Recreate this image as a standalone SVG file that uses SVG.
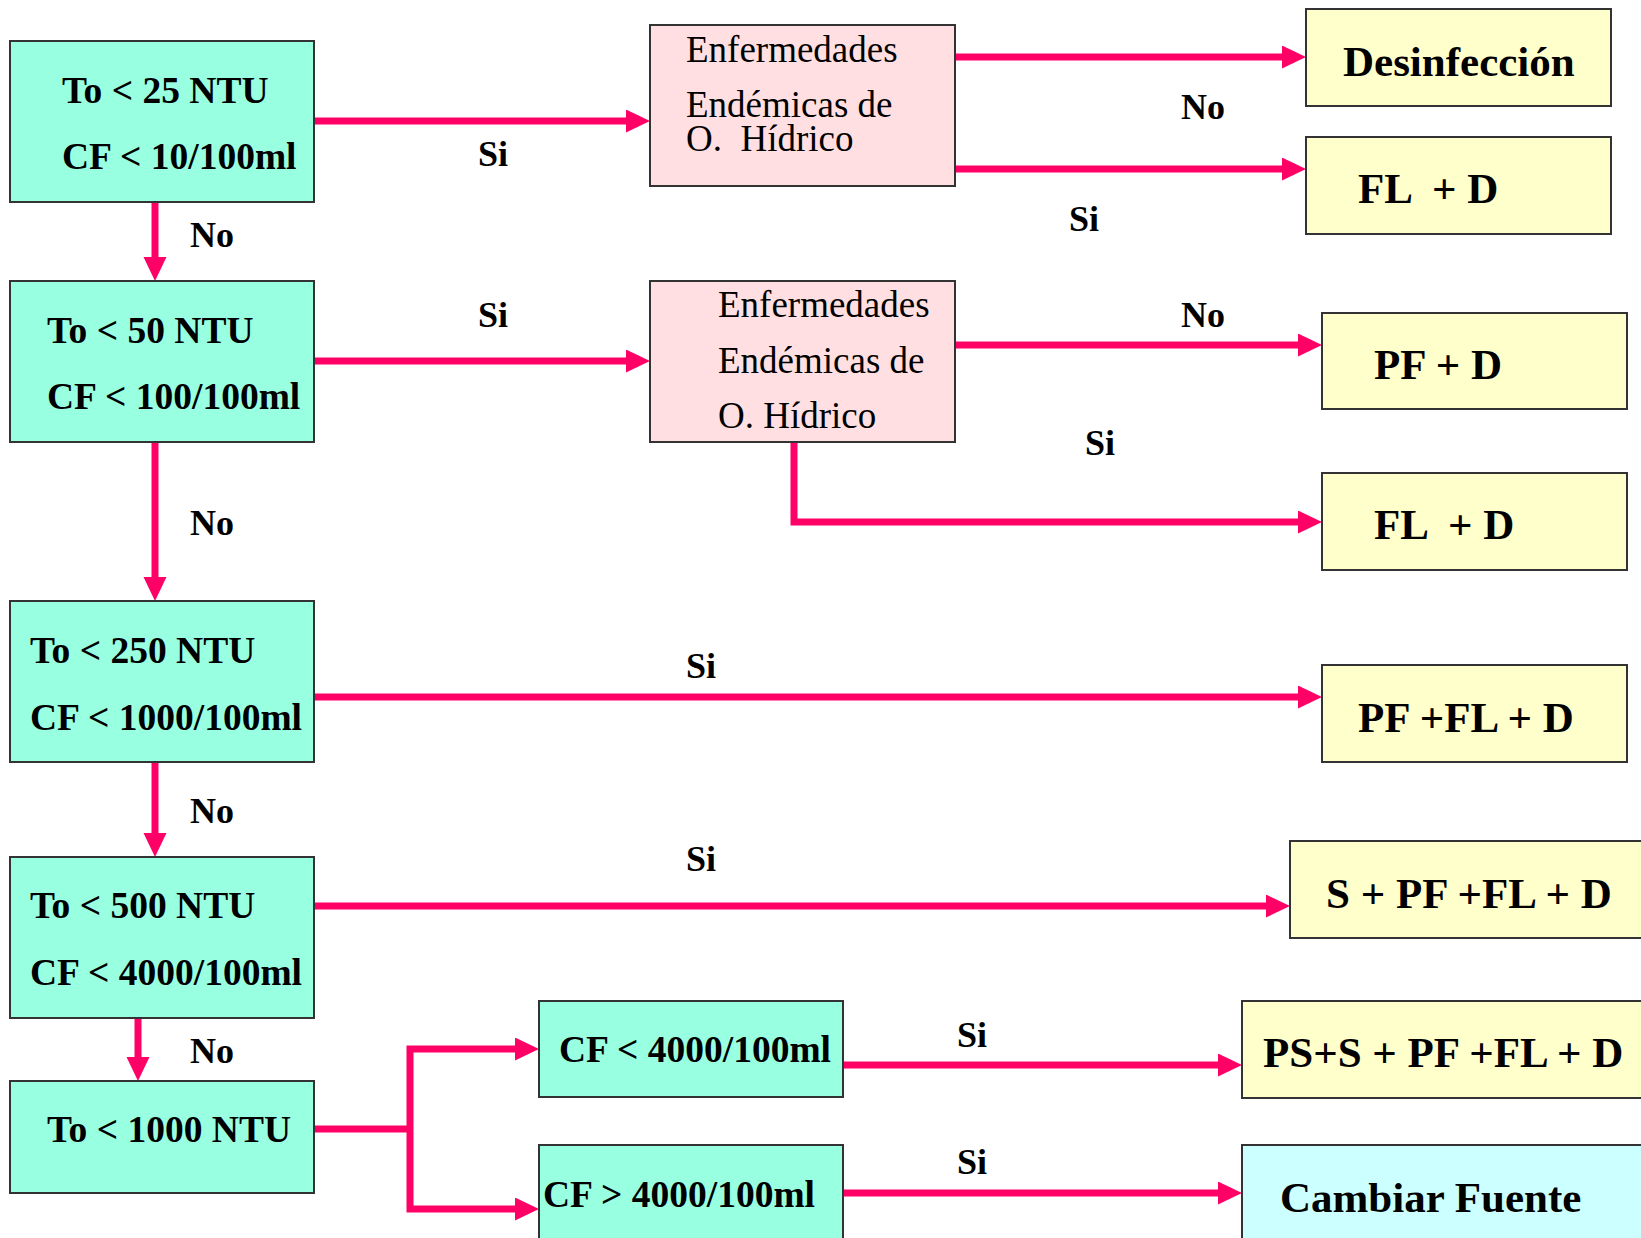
<svg xmlns="http://www.w3.org/2000/svg" width="1641" height="1238" viewBox="0 0 1641 1238">
<style>
.box{stroke:#333;stroke-width:2}
.teal{fill:#99FFE1}
.pink{fill:#FFDFE1}
.yel{fill:#FFFFCC}
.cyan{fill:#CCFFFF}
text{font-family:"Liberation Serif","Times New Roman",serif;fill:#000}
.t{font-size:37.5px;font-weight:bold}
.p{font-size:37px}
.y{font-size:43px;font-weight:bold}
.l{font-size:36px;font-weight:bold}
.c{fill:none;stroke:#FF0066;stroke-width:7;stroke-linejoin:miter}
.a{marker-end:url(#ah)}
</style>
<defs>
<marker id="ah" markerUnits="userSpaceOnUse" markerWidth="24" markerHeight="24" refX="4" refY="11.5" orient="auto">
<path d="M0,0 L24,11.5 L0,23 z" fill="#FF0066"/>
</marker>
</defs>
<rect width="1641" height="1238" fill="#fff"/>
<g id="connectors">
<path class="c a" d="M314,121 H630"/>
<path class="c a" d="M954,57 H1286"/>
<path class="c a" d="M954,169 H1286"/>
<path class="c a" d="M155,202 V261"/>
<path class="c a" d="M314,361 H630"/>
<path class="c a" d="M954,345 H1302"/>
<path class="c a" d="M794,442 V522 H1302"/>
<path class="c a" d="M155,442 V581"/>
<path class="c a" d="M314,697 H1302"/>
<path class="c a" d="M155,762 V837"/>
<path class="c a" d="M314,906 H1270"/>
<path class="c a" d="M138,1018 V1061"/>
<path class="c" d="M314,1129 H410"/>
<path class="c a" d="M410,1129 V1049 H519"/>
<path class="c a" d="M410,1129 V1209 H519"/>
<path class="c a" d="M843,1065 H1222"/>
<path class="c a" d="M843,1193 H1222"/>
<text class="l" x="478" y="166">Si</text>
<text class="l" x="190" y="247">No</text>
<text class="l" x="478" y="327">Si</text>
<text class="l" x="1181" y="119">No</text>
<text class="l" x="1069" y="231">Si</text>
<text class="l" x="1181" y="327">No</text>
<text class="l" x="1085" y="455">Si</text>
<text class="l" x="190" y="535">No</text>
<text class="l" x="686" y="678">Si</text>
<text class="l" x="190" y="823">No</text>
<text class="l" x="686" y="871">Si</text>
<text class="l" x="190" y="1063">No</text>
<text class="l" x="957" y="1047">Si</text>
<text class="l" x="957" y="1174">Si</text>
</g>
<g id="n1"><rect class="box teal" x="10" y="41" width="304" height="161"/>
<text class="t" x="62" y="103">To &lt; 25 NTU</text>
<text class="t" x="62" y="169">CF &lt; 10/100ml</text></g>
<g id="n2"><rect class="box teal" x="10" y="281" width="304" height="161"/>
<text class="t" x="47" y="343">To &lt; 50 NTU</text>
<text class="t" x="47" y="409">CF &lt; 100/100ml</text></g>
<g id="n3"><rect class="box teal" x="10" y="601" width="304" height="161"/>
<text class="t" x="30" y="663">To &lt; 250 NTU</text>
<text class="t" x="30" y="730">CF &lt; 1000/100ml</text></g>
<g id="n4"><rect class="box teal" x="10" y="857" width="304" height="161"/>
<text class="t" x="30" y="918">To &lt; 500 NTU</text>
<text class="t" x="30" y="985">CF &lt; 4000/100ml</text></g>
<g id="n5"><rect class="box teal" x="10" y="1081" width="304" height="112"/>
<text class="t" x="47" y="1142">To &lt; 1000 NTU</text></g>
<g id="n6"><rect class="box teal" x="539" y="1001" width="304" height="96"/>
<text class="t" x="559" y="1062">CF &lt; 4000/100ml</text></g>
<g id="n7"><rect class="box teal" x="539" y="1145" width="304" height="110"/>
<text class="t" x="543" y="1207">CF &gt; 4000/100ml</text></g>
<g id="pA"><rect class="box pink" x="650" y="25" width="305" height="161"/>
<text class="p" x="686" y="62">Enfermedades</text>
<text class="p" x="686" y="117">Endémicas de</text>
<text class="p" x="686" y="151" xml:space="preserve">O.  Hídrico</text></g>
<g id="pB"><rect class="box pink" x="650" y="281" width="305" height="161"/>
<text class="p" x="718" y="317">Enfermedades</text>
<text class="p" x="718" y="373">Endémicas de</text>
<text class="p" x="718" y="428">O. Hídrico</text></g>
<g id="y1"><rect class="box yel" x="1306" y="9" width="305" height="97"/>
<text class="y" x="1343" y="76">Desinfección</text></g>
<g id="y2"><rect class="box yel" x="1306" y="137" width="305" height="97"/>
<text class="y" x="1358" y="203" xml:space="preserve">FL  + D</text></g>
<g id="y3"><rect class="box yel" x="1322" y="313" width="305" height="96"/>
<text class="y" x="1374" y="379">PF + D</text></g>
<g id="y4"><rect class="box yel" x="1322" y="473" width="305" height="97"/>
<text class="y" x="1374" y="539" xml:space="preserve">FL  + D</text></g>
<g id="y5"><rect class="box yel" x="1322" y="665" width="305" height="97"/>
<text class="y" x="1358" y="732">PF +FL + D</text></g>
<g id="y6"><rect class="box yel" x="1290" y="841" width="360" height="97"/>
<text class="y" x="1326" y="908">S + PF +FL + D</text></g>
<g id="y7"><rect class="box yel" x="1242" y="1001" width="410" height="97"/>
<text class="y" x="1263" y="1067">PS+S + PF +FL + D</text></g>
<g id="cf"><rect class="box cyan" x="1242" y="1145" width="410" height="110"/>
<text class="y" x="1280" y="1212">Cambiar Fuente</text></g>
</svg>
